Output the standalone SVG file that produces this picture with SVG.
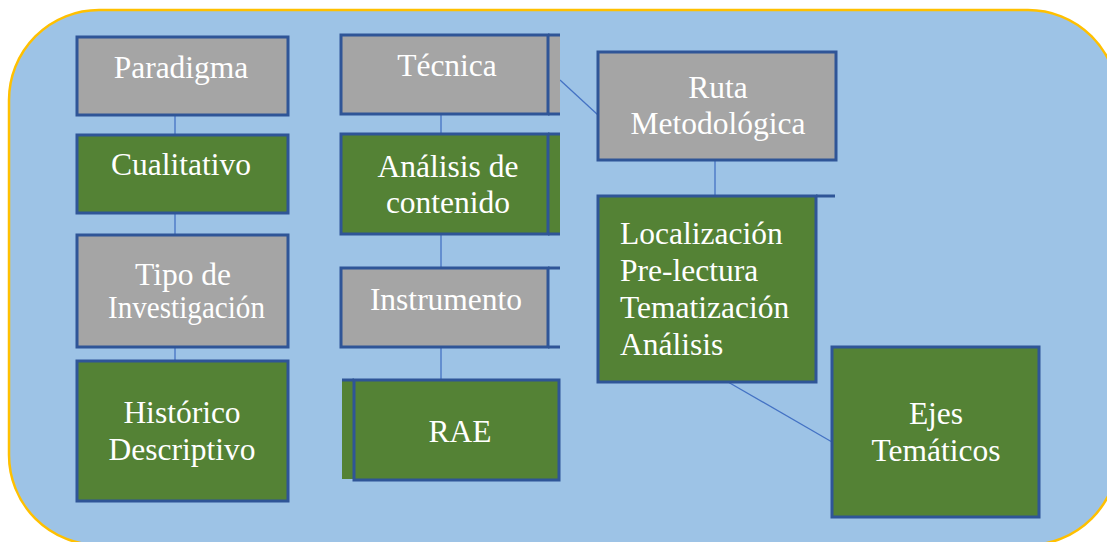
<svg xmlns="http://www.w3.org/2000/svg" width="1107" height="542" viewBox="0 0 1107 542">
<style>
.g{fill:#A5A5A5}
.v{fill:#548235}
.b{fill:none;stroke:#2F5597;stroke-width:3}
.c{fill:none;stroke:#4472C4;stroke-width:1.3}
text{font-family:"Liberation Serif","Times New Roman",serif;font-size:31.5px;fill:#FFFFFF}
.m{text-anchor:middle}
</style>
<rect x="9" y="10" width="1109" height="535" rx="90" ry="90" fill="#9DC3E6" stroke="#FFC000" stroke-width="2.5"/>
<g id="connectors">
<line class="c" x1="175" y1="115" x2="175" y2="135"/>
<line class="c" x1="175" y1="213" x2="175" y2="235"/>
<line class="c" x1="175" y1="347" x2="175" y2="361"/>
<line class="c" x1="441" y1="114" x2="441" y2="134"/>
<line class="c" x1="441" y1="234" x2="441" y2="268"/>
<line class="c" x1="441" y1="347" x2="441" y2="379"/>
<line class="c" x1="341" y1="82" x2="350" y2="82"/>
<line class="c" x1="560" y1="80" x2="598" y2="115"/>
<line class="c" x1="715" y1="160" x2="715" y2="196"/>
<line class="c" x1="728" y1="382" x2="832" y2="442"/>
</g>
<g id="paradigma">
<rect class="g" x="77" y="37" width="211" height="78"/>
<rect class="b" x="77" y="37" width="211" height="78"/>
<text class="m" x="181" y="78">Paradigma</text>
</g>
<g id="cualitativo">
<rect class="v" x="77" y="135" width="211" height="78"/>
<rect class="b" x="77" y="135" width="211" height="78"/>
<text class="m" x="181" y="175">Cualitativo</text>
</g>
<g id="tipo">
<rect class="g" x="77" y="235" width="211" height="112"/>
<rect class="b" x="77" y="235" width="211" height="112"/>
<text class="m" x="183" y="285">Tipo de</text>
<text class="m" x="186.5" y="318" textLength="157" lengthAdjust="spacingAndGlyphs">Investigación</text>
</g>
<g id="historico">
<rect class="v" x="77" y="361" width="211" height="140"/>
<rect class="b" x="77" y="361" width="211" height="140"/>
<text class="m" x="182" y="423">Histórico</text>
<text class="m" x="182" y="460">Descriptivo</text>
</g>
<g id="tecnica">
<rect class="g" x="341" y="35" width="219" height="79"/>
<rect class="b" x="341" y="35" width="207" height="79"/>
<line class="b" x1="548" y1="35" x2="560" y2="35"/>
<line class="b" x1="548" y1="114" x2="560" y2="114"/>
<text class="m" x="447" y="76">Técnica</text>
</g>
<g id="analisis">
<rect class="v" x="341" y="134" width="219" height="100"/>
<rect class="b" x="341" y="134" width="207" height="100"/>
<line class="b" x1="548" y1="134" x2="560" y2="134"/>
<line class="b" x1="548" y1="234" x2="560" y2="234"/>
<text class="m" x="448" y="177">Análisis de</text>
<text class="m" x="448" y="213">contenido</text>
</g>
<g id="instrumento">
<rect class="g" x="341" y="268" width="207" height="79"/>
<rect class="b" x="341" y="268" width="207" height="79"/>
<line class="b" x1="548" y1="268" x2="560" y2="268"/>
<line class="b" x1="548" y1="347" x2="560" y2="347"/>
<text class="m" x="446" y="310">Instrumento</text>
</g>
<g id="rae">
<rect class="v" x="342" y="379" width="217" height="100"/>
<rect class="b" x="354" y="380" width="205" height="100"/>
<line class="b" x1="342" y1="380" x2="354" y2="380"/>
<text class="m" x="460" y="442">RAE</text>
</g>
<g id="ruta">
<rect class="g" x="598" y="52" width="238" height="108"/>
<rect class="b" x="598" y="52" width="238" height="108"/>
<text class="m" x="718" y="98">Ruta</text>
<text class="m" x="718" y="134">Metodológica</text>
</g>
<g id="pasos">
<rect class="v" x="598" y="196" width="218" height="186"/>
<rect class="b" x="598" y="196" width="218" height="186"/>
<line class="b" x1="816" y1="196" x2="835" y2="196"/>
<text x="620" y="244">Localización</text>
<text x="620" y="281">Pre-lectura</text>
<text x="620" y="318">Tematización</text>
<text x="620" y="355">Análisis</text>
</g>
<g id="ejes">
<rect class="v" x="832" y="347" width="207" height="170"/>
<rect class="b" x="832" y="347" width="207" height="170"/>
<text class="m" x="936" y="424">Ejes</text>
<text class="m" x="936" y="461">Temáticos</text>
</g>
</svg>
